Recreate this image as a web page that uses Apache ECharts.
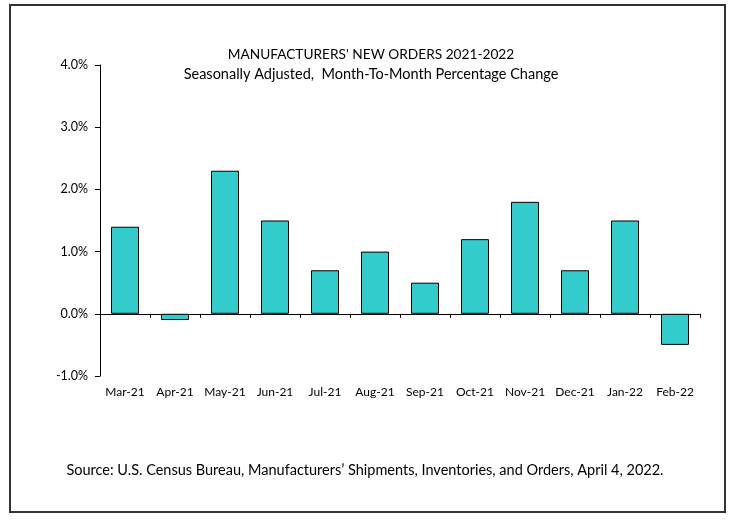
<!DOCTYPE html>
<html>
<head>
<meta charset="utf-8">
<script src="https://cdn.jsdelivr.net/npm/echarts@6/dist/echarts.min.js"></script>
<style>
html,body{margin:0;padding:0;background:#fff;}
#chart{width:731px;height:520px;}
</style>
</head>
<body>
<div id="chart"></div>
<script>
var categories = ['Mar-21','Apr-21','May-21','Jun-21','Jul-21','Aug-21','Sep-21','Oct-21','Nov-21','Dec-21','Jan-22','Feb-22'];
var values = [1.4, -0.1, 2.3, 1.5, 0.7, 1.0, 0.5, 1.2, 1.8, 0.7, 1.5, -0.5];
var yTicks = [-1, 0, 1, 2, 3, 4];
var titleText = "MANUFACTURERS' NEW ORDERS 2021-2022";
var subtitleText = "Seasonally Adjusted,  Month-To-Month Percentage Change";
var sourceText = "Source: U.S. Census Bureau, Manufacturers\u2019 Shipments, Inventories, and Orders, April 4, 2022.";

var FONT = 'Lato';
var chart = echarts.init(document.getElementById('chart'), null, {renderer: 'canvas'});
chart.setOption({
  animation: false,
  backgroundColor: '#fff',
  grid: {left: 100, right: 31, top: 65, bottom: 144, containLabel: false},
  xAxis: [{
    type: 'category',
    data: categories,
    position: 'bottom',
    axisLine: {show: false, onZero: false},
    axisTick: {show: false},
    axisLabel: {color: '#000', fontFamily: FONT, fontSize: 12, margin: 10, interval: 0}
  }, {
    type: 'category',
    data: categories,
    position: 'bottom',
    axisLine: {show: true, onZero: true, lineStyle: {color: '#000', width: 1}},
    axisTick: {show: true, length: 4, interval: 0, lineStyle: {color: '#000'}},
    axisLabel: {show: false}
  }],
  yAxis: {
    type: 'value',
    min: yTicks[0],
    max: yTicks[yTicks.length - 1],
    interval: 1,
    splitLine: {show: false},
    axisLine: {show: true, lineStyle: {color: '#000', width: 1}},
    axisTick: {show: true, length: 5, lineStyle: {color: '#000'}},
    axisLabel: {
      color: '#000', fontFamily: FONT, fontSize: 12.5, margin: 12,
      formatter: function (v) { return v.toFixed(1) + '%'; }
    }
  },
  series: [{
    type: 'bar',
    xAxisIndex: 0,
    data: values,
    barWidth: 28,
    itemStyle: {color: '#33CCCC', borderColor: '#000', borderWidth: 1}
  }],
  graphic: [
    {type: 'rect', shape: {x: 10, y: 5, width: 715, height: 507}, style: {fill: 'none', stroke: '#333', lineWidth: 2}, silent: true},
    {type: 'text', x: 371, y: 55, style: {text: titleText, font: '13.7px ' + FONT, fill: '#000', textAlign: 'center', textVerticalAlign: 'middle'}},
    {type: 'text', x: 371, y: 74, style: {text: subtitleText, font: '14.5px ' + FONT, fill: '#000', textAlign: 'center', textVerticalAlign: 'middle'}},
    {type: 'text', x: 365, y: 470, style: {text: sourceText, font: '14.5px ' + FONT, fill: '#000', textAlign: 'center', textVerticalAlign: 'middle'}}
  ]
});
</script>
</body>
</html>
